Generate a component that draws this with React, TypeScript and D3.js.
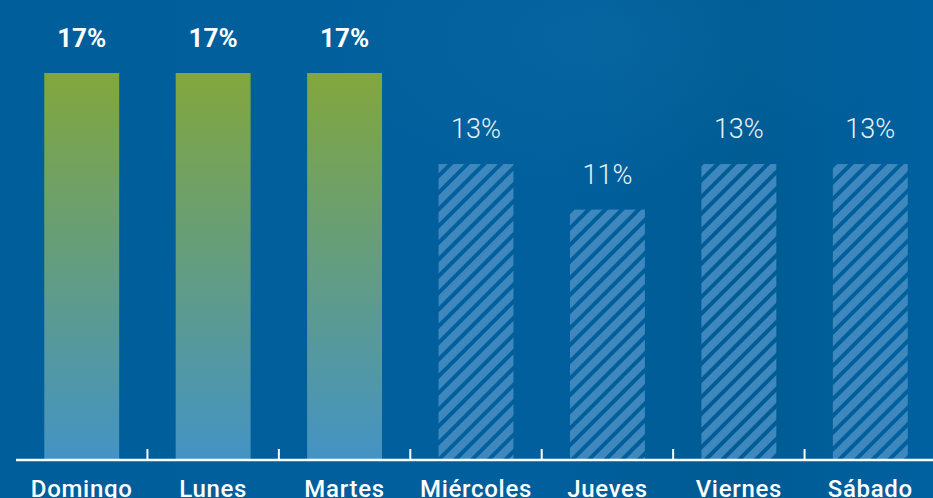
import React from 'react';
import * as d3 from 'd3';

const days = ['Domingo', 'Lunes', 'Martes', 'Miércoles', 'Jueves', 'Viernes', 'Sábado'];
const shares = [17, 17, 17, 13, 11, 13, 13];
const highlighted = [true, true, true, false, false, false, false];

const width = 933;
const height = 498;
const margin = { left: 16, right: -3, baseline: 460 };

const App: React.FC = () => {
  const x = d3.scaleBand<string>()
    .domain(days)
    .range([margin.left, width - margin.right])
    .paddingInner(0.43)
    .paddingOuter(0.215);

  const y = d3.scaleLinear().domain([0, 17]).range([margin.baseline, 73]);

  const step = x.step();
  const ticks = days.slice(1).map(d => (x(d) || 0) - (step - x.bandwidth()) / 2);

  return (
    <div style={{ position: 'fixed', top: 0, left: 0, width, height, overflow: 'hidden' }}>
      <svg width={width} height={height} style={{ display: 'block' }}>
        <defs>
          <linearGradient id="bg" x1="0" y1="0" x2="1" y2="0">
            <stop offset="0%" stopColor="#005e9b" />
            <stop offset="60%" stopColor="#005f9c" />
            <stop offset="80%" stopColor="#005b93" />
            <stop offset="100%" stopColor="#0061a0" />
          </linearGradient>
          <radialGradient id="glow" cx="0.64" cy="0.08" r="0.32">
            <stop offset="0%" stopColor="#1a78b0" stopOpacity={0.25} />
            <stop offset="100%" stopColor="#1a78b0" stopOpacity={0} />
          </radialGradient>
          <linearGradient id="barFill" x1="0" y1="0" x2="0" y2="1">
            <stop offset="0%" stopColor="#83a63d" />
            <stop offset="100%" stopColor="#4393c5" />
          </linearGradient>
          <pattern id="stripes" patternUnits="userSpaceOnUse" width={11.8} height={11.8} patternTransform="rotate(45)">
            <rect x={0} y={0} width={7.8} height={11.8} fill="#3f88be" />
          </pattern>
        </defs>

        <rect width={width} height={height} fill="url(#bg)" />
        <rect width={width} height={height} fill="url(#glow)" />

        {days.map((d, i) => (
          <rect
            key={d}
            x={x(d)}
            y={y(shares[i])}
            width={x.bandwidth()}
            height={margin.baseline - y(shares[i])}
            fill={highlighted[i] ? 'url(#barFill)' : 'url(#stripes)'}
          />
        ))}

        {days.map((d, i) => (
          <text
            key={d}
            x={(x(d) || 0) + x.bandwidth() / 2}
            y={y(shares[i]) - 26}
            textAnchor="middle"
            fill="#ffffff"
            fontFamily="Roboto, sans-serif"
            fontWeight={highlighted[i] ? 700 : 300}
            fontSize={highlighted[i] ? 26 : 27}
            opacity={highlighted[i] ? 1 : 0.92}
          >
            {shares[i]}%
          </text>
        ))}

        <line x1={margin.left} x2={width} y1={margin.baseline} y2={margin.baseline} stroke="#ffffff" strokeWidth={2.5} />
        {ticks.map(t => (
          <line key={t} x1={t} x2={t} y1={margin.baseline - 11} y2={margin.baseline} stroke="#ffffff" strokeWidth={2} />
        ))}

        {days.map(d => (
          <text
            key={d}
            x={(x(d) || 0) + x.bandwidth() / 2}
            y={497}
            textAnchor="middle"
            fill="#ffffff"
            fontFamily="Roboto, sans-serif"
            fontWeight={500}
            fontSize={24}
            letterSpacing={0.7}
          >
            {d}
          </text>
        ))}
      </svg>
    </div>
  );
};

export default App;
